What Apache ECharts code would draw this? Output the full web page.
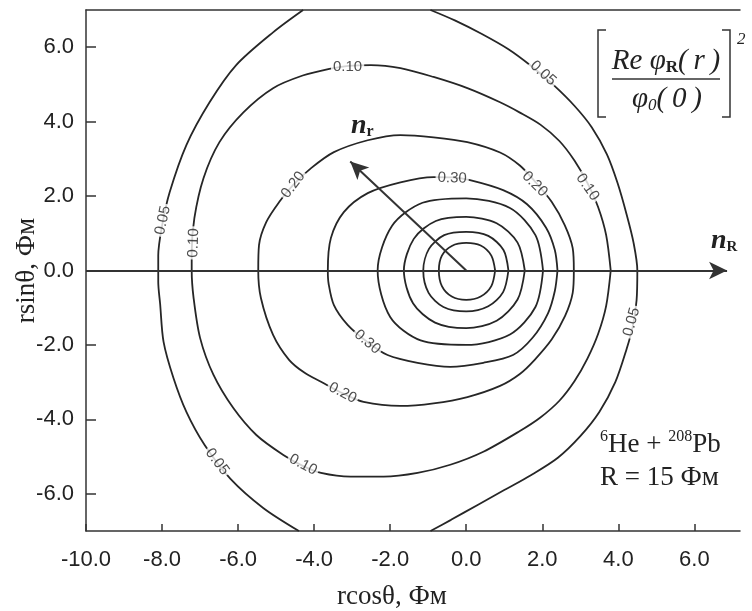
<!DOCTYPE html>
<html><head><meta charset="utf-8">
<script src="https://cdn.jsdelivr.net/npm/echarts@6.0.0/dist/echarts.min.js"></script>
<style>html,body{margin:0;padding:0;background:#fff}#chart{width:752px;height:611px}</style>
</head><body><div id="chart"></div>
<script>
// ---- axes ----
const xTicks = [-10, -8, -6, -4, -2, 0, 2, 4, 6];
const xTickLabels = ['-10.0', '-8.0', '-6.0', '-4.0', '-2.0', '0.0', '2.0', '4.0', '6.0'];
const yTicks = [-6, -4, -2, 0, 2, 4, 6];
const yTickLabels = ['-6.0', '-4.0', '-2.0', '0.0', '2.0', '4.0', '6.0'];
const xRange = [-10, 7.2];
const yRange = [-7, 7];
const xName = 'rcosθ, Фм';
const yName = 'rsinθ, Фм';

// ---- contour lines ----
const contour005Right = [[-0.94,7.0],[-0.3,6.72],[0.4,6.36],[1.1,5.95],[1.7,5.5],[2.3,4.98],[2.85,4.42],[3.3,3.85],[3.7,3.12],[3.98,2.35],[4.22,1.5],[4.4,0.75],[4.5,0],[4.48,-0.8],[4.38,-1.5],[4.22,-2.1],[3.92,-3.0],[3.5,-3.8],[3.0,-4.45],[2.41,-5.03],[1.7,-5.5],[1.0,-5.9],[0.3,-6.3],[-0.4,-6.7],[-0.94,-7.0]];
const contour005Left = [[-4.29,7.0],[-5.08,6.4],[-6.05,5.52],[-6.75,4.52],[-7.36,3.37],[-7.8,2.1],[-8.0,1.2],[-8.1,0.4],[-8.1,-0.3],[-8.05,-0.9],[-7.96,-1.92],[-7.7,-2.89],[-7.36,-3.8],[-6.88,-4.69],[-6.2,-5.6],[-5.34,-6.38],[-4.4,-7.0]];
const contour010 = [[3.8,0],[3.68,0.95],[3.47,1.7],[3.19,2.35],[2.85,2.95],[2.45,3.48],[1.95,3.92],[1.4,4.25],[0.89,4.52],[0.03,4.9],[-0.86,5.2],[-1.73,5.44],[-2.51,5.52],[-3.1,5.5],[-3.6,5.42],[-4.3,5.24],[-5.08,4.9],[-5.86,4.25],[-6.49,3.45],[-6.91,2.48],[-7.15,1.41],[-7.22,0.5],[-7.22,0],[-7.17,-0.74],[-7.0,-1.81],[-6.65,-2.8],[-6.13,-3.69],[-5.52,-4.42],[-4.82,-4.95],[-4.3,-5.25],[-3.82,-5.44],[-3.04,-5.54],[-2.17,-5.54],[-1.28,-5.44],[-0.42,-5.22],[0.45,-4.87],[1.4,-4.32],[1.95,-3.95],[2.45,-3.5],[2.85,-2.97],[3.19,-2.36],[3.47,-1.7],[3.68,-0.95],[3.8,0]];
const contour020 = [[2.83,0],[2.8,0.6],[2.59,1.22],[2.25,1.84],[1.8,2.4],[1.41,2.82],[0.89,3.17],[0.03,3.45],[-0.86,3.58],[-1.73,3.64],[-2.59,3.5],[-3.48,3.18],[-4.08,2.75],[-4.55,2.3],[-4.92,1.84],[-5.26,1.3],[-5.45,0.68],[-5.47,0],[-5.4,-0.74],[-5.08,-1.73],[-4.66,-2.4],[-4.25,-2.75],[-3.82,-2.99],[-3.25,-3.3],[-2.7,-3.53],[-1.73,-3.64],[-0.86,-3.57],[0.03,-3.4],[0.89,-3.1],[1.41,-2.78],[1.8,-2.4],[2.25,-1.85],[2.6,-1.22],[2.8,-0.6],[2.83,0]];
const contour030 = [[2.4,0],[2.33,0.55],[2.1,1.15],[1.6,1.78],[0.97,2.16],[0.1,2.43],[-0.37,2.5],[-0.86,2.51],[-1.73,2.37],[-2.59,2.08],[-3.22,1.57],[-3.56,0.87],[-3.64,0],[-3.62,-0.35],[-3.48,-0.93],[-3.12,-1.46],[-2.6,-1.92],[-2.07,-2.27],[-1.28,-2.48],[-0.42,-2.59],[0.45,-2.48],[1.23,-2.27],[1.75,-1.8],[2.15,-1.15],[2.33,-0.55],[2.4,0]];
const innerRing1 = [[2.02,0],[1.82,0.95],[1.15,1.68],[0,1.94],[-1.15,1.82],[-1.95,1.2],[-2.33,0],[-2.0,-1.25],[-1.2,-1.88],[0,-2.0],[1.15,-1.72],[1.82,-0.98],[2.02,0]];
const innerRing2 = [[1.54,0],[1.35,0.75],[0.8,1.27],[0,1.44],[-0.8,1.33],[-1.38,0.85],[-1.64,0],[-1.4,-0.88],[-0.82,-1.4],[0,-1.55],[0.8,-1.35],[1.35,-0.78],[1.54,0]];
const innerRing3 = [[1.11,0],[0.98,0.55],[0.58,0.93],[0,1.04],[-0.58,0.95],[-0.98,0.58],[-1.13,0],[-0.99,-0.6],[-0.6,-0.98],[0,-1.1],[0.58,-0.96],[0.97,-0.58],[1.11,0]];
const innerRing4 = [[0.76,0],[0.66,0.4],[0.38,0.67],[0,0.74],[-0.38,0.66],[-0.64,0.4],[-0.72,0],[-0.64,-0.42],[-0.38,-0.7],[0,-0.79],[0.38,-0.7],[0.66,-0.42],[0.76,0]];

// ---- contour labels ----
const contourLabelText  = ['0.05','0.05','0.05','0.05','0.10','0.10','0.10','0.10','0.20','0.20','0.20','0.30','0.30'];
const contourLabelX     = [2.02, -7.98, -6.55, 4.35, -7.17, -3.12, 3.19, -4.29, -4.55, 1.8, -3.25, -0.37, -2.6];
const contourLabelY     = [5.3, 1.35, -5.14, -1.38, 0.74, 5.46, 2.24, -5.22, 2.3, 2.32, -3.29, 2.48, -1.92];
const contourLabelAngle = [-42, 78, -53, 75, 88, 0, -55, -28, 52, -45, -27, -2, -40];

// ---- arrows (n_R along the x axis, n_r radial) ----
const arrowNR = [[-10, 0], [6.86, 0]];
const arrowNr = [[0, 0], [-3.05, 2.93]];

const LINE = '#262626';
const TXT = '#222';
const SANS = '"Liberation Sans", Arial, sans-serif';
const SERIF = '"Liberation Serif", "Times New Roman", serif';

const contourSets = [contour005Right, contour005Left, contour010, contour020, contour030, innerRing1, innerRing2, innerRing3, innerRing4];
const series = contourSets.map(d => ({
  type: 'line', data: d, smooth: 0.3, symbol: 'none', silent: true, z: 2,
  lineStyle: { color: LINE, width: 1.8 }
}));

series.push({
  type: 'scatter', silent: true, z: 6, symbolSize: 1,
  itemStyle: { color: 'transparent' },
  data: contourLabelText.map((t, i) => ({ name: t, value: [contourLabelX[i], contourLabelY[i]], label: { rotate: contourLabelAngle[i] } })),
  label: { show: true, position: 'inside', formatter: '{b}', fontFamily: SANS, fontSize: 15, color: TXT, backgroundColor: '#fff', padding: [0, 2] }
});

series.push({
  type: 'scatter', data: [], silent: true, z: 4,
  markLine: {
    silent: true, animation: false, symbol: ['none', 'arrow'], symbolSize: [13, 18],
    label: { show: false },
    lineStyle: { type: 'solid', color: '#333', width: 2 },
    data: [
      [{ coord: arrowNR[0] }, { coord: arrowNR[1] }],
      [{ coord: arrowNr[0] }, { coord: arrowNr[1] }]
    ]
  }
});

// ---- text layout helper for annotations ----
const meas = document.createElement('canvas').getContext('2d');
function runText(x0, yMid, pieces, center) {
  const fonts = pieces.map(p => `${p.style || 'normal'} ${p.weight || 'normal'} ${p.size}px ${p.family || SERIF}`);
  const widths = pieces.map((p, i) => { meas.font = fonts[i]; return meas.measureText(p.t).width; });
  let x = center ? x0 - widths.reduce((a, b) => a + b, 0) / 2 : x0;
  return pieces.map((p, i) => {
    const el = { type: 'text', x: x, y: yMid + (p.dy || 0), z: 20,
      style: { text: p.t, font: fonts[i], fill: TXT, align: 'left', verticalAlign: 'middle' } };
    x += widths[i];
    return el;
  });
}

const graphics = [].concat(
  [
    { type: 'polyline', z: 20, shape: { points: [[606, 30], [598, 30], [598, 117], [606, 117]] }, style: { stroke: '#333', lineWidth: 1.5, fill: null } },
    { type: 'polyline', z: 20, shape: { points: [[722, 30], [730, 30], [730, 117], [722, 117]] }, style: { stroke: '#333', lineWidth: 1.5, fill: null } },
    { type: 'line', z: 20, shape: { x1: 612, y1: 79, x2: 720, y2: 79 }, style: { stroke: '#333', lineWidth: 1.3 } },
    { type: 'text', z: 20, x: 737, y: 40, style: { text: '2', font: `italic 17px ${SERIF}`, fill: TXT, align: 'left', verticalAlign: 'middle' } }
  ],
  runText(666, 61, [
    { t: 'Re φ', style: 'italic', size: 29 },
    { t: 'R', weight: 'bold', size: 17, dy: 7 },
    { t: '(\u2009r\u2009)', style: 'italic', size: 29 }
  ], true),
  runText(667, 99, [
    { t: 'φ', style: 'italic', size: 29 },
    { t: '0', style: 'italic', size: 17, dy: 7 },
    { t: '(\u20090\u2009)', style: 'italic', size: 29 }
  ], true),
  runText(351, 126, [
    { t: 'n', style: 'italic', weight: 'bold', size: 28 },
    { t: 'r', weight: 'bold', size: 16, dy: 6 }
  ]),
  runText(711, 241, [
    { t: 'n', style: 'italic', weight: 'bold', size: 28 },
    { t: 'R', weight: 'bold', size: 15, dy: 6 }
  ]),
  runText(600, 445, [
    { t: '6', size: 16, dy: -8 },
    { t: 'He + ', size: 27 },
    { t: '208', size: 16, dy: -8 },
    { t: 'Pb', size: 27 }
  ]),
  runText(600, 478, [
    { t: 'R = 15 Фм', size: 27 }
  ])
);

const chart = echarts.init(document.getElementById('chart'), null, { renderer: 'canvas' });
chart.setOption({
  animation: false,
  backgroundColor: '#fff',
  grid: { left: 86, right: 12, top: 10, bottom: 80, containLabel: false, outerBoundsMode: 'none' },
  xAxis: [{
    type: 'value', min: xRange[0], max: xRange[1], position: 'bottom',
    axisLine: { show: true, onZero: false, lineStyle: { color: '#333', width: 1.5 } },
    axisTick: { show: true, inside: true, length: 7, customValues: xTicks, lineStyle: { color: '#333', width: 1.5 } },
    axisLabel: { customValues: xTicks, formatter: v => xTickLabels[xTicks.indexOf(v)], margin: 18, fontFamily: SANS, fontSize: 22, color: TXT },
    splitLine: { show: false },
    name: xName, nameLocation: 'middle', nameGap: 52, nameMoveOverlap: false,
    nameTextStyle: { fontFamily: SERIF, fontSize: 27, color: TXT, padding: [0, 42, 0, 0] }
  }, {
    type: 'value', min: xRange[0], max: xRange[1], position: 'top',
    axisLine: { show: true, onZero: false, lineStyle: { color: '#333', width: 1.5 } },
    axisTick: { show: false }, axisLabel: { show: false }, splitLine: { show: false }
  }],
  yAxis: {
    type: 'value', min: yRange[0], max: yRange[1],
    axisLine: { show: true, onZero: false, lineStyle: { color: '#333', width: 1.5 } },
    axisTick: { show: true, inside: true, length: 10, customValues: yTicks, lineStyle: { color: '#333', width: 1.5 } },
    axisLabel: { customValues: yTicks, formatter: v => yTickLabels[yTicks.indexOf(v)], margin: 12, fontFamily: SANS, fontSize: 22, color: TXT },
    splitLine: { show: false },
    name: yName, nameLocation: 'middle', nameGap: 46, nameRotate: 90, nameMoveOverlap: false,
    nameTextStyle: { fontFamily: SERIF, fontSize: 27, color: TXT }
  },
  series: series,
  graphic: graphics
});
</script>
</body></html>
